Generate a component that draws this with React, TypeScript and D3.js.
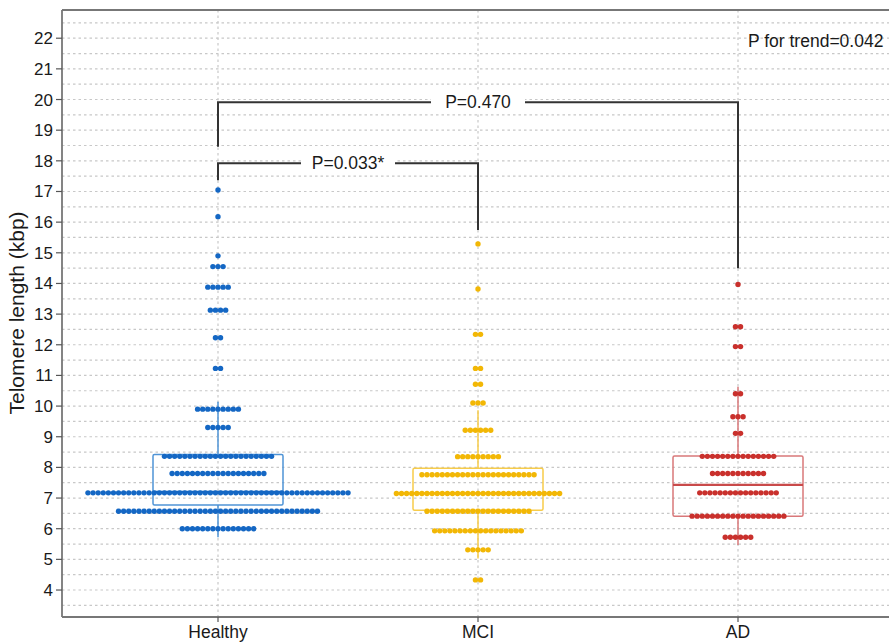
import React from "react";
import * as d3 from "d3";

const groups = ["Healthy", "MCI", "AD"];

const healthyLevels = [17.05, 16.18, 14.9, 14.55, 13.88, 13.13, 12.23, 11.23, 9.9, 9.3, 8.36, 7.8, 7.17, 6.57, 6.0];
const healthyCounts = [1, 1, 1, 3, 5, 4, 2, 2, 9, 5, 22, 19, 52, 40, 15];

const mciLevels = [15.29, 13.82, 12.34, 11.23, 10.71, 10.1, 9.21, 8.35, 7.76, 7.15, 6.57, 5.93, 5.31, 4.33];
const mciCounts = [1, 1, 2, 2, 2, 3, 6, 9, 23, 33, 21, 18, 5, 2];

const adLevels = [13.97, 12.59, 11.94, 10.4, 9.65, 9.11, 8.36, 7.8, 7.17, 6.41, 5.72];
const adCounts = [1, 2, 2, 2, 3, 2, 15, 11, 16, 19, 6];

// box stats: [lowerWhisker, q1, median, q3, upperWhisker]
const healthyBox = [5.72, 6.77, 7.2, 8.42, 10.14];
const mciBox = [5.03, 6.6, 7.15, 7.97, 9.86];
const adBox = [5.47, 6.41, 7.43, 8.37, 10.63];

const dotColors = ["#1467c4", "#f2b705", "#c9302c"];
const boxColors = ["#4f94d6", "#f7cc4a", "#d9787a"];
const medianColors = ["#1467c4", "#f2b705", "#c94a4a"];

const yTicks = d3.range(4, 23, 1);
const yGrid = d3.range(3.5, 23, 0.5);

const comparisons = [
  { from: "Healthy", to: "MCI", label: "P=0.033*", top: 17.92, leftEnd: 17.37, rightEnd: 15.74 },
  { from: "Healthy", to: "AD", label: "P=0.470", top: 19.91, leftEnd: 18.46, rightEnd: 14.5 },
];
const trendLabel = "P for trend=0.042";
const yTitle = "Telomere length (kbp)";

const W = 889;
const H = 643;
const panelLeft = 62;
const panelTop = 10;
const panelBottom = 617;
const panelRight = 894;

export default function App() {
  const y = d3.scaleLinear().domain([3.12, 22.92]).range([panelBottom, panelTop]);
  const x = d3.scalePoint<string>().domain(groups).range([218, 738]);
  const boxHalf = 65;
  const spacing = 5.1;
  const r = 2.7;
  const font = "'Liberation Sans', Arial, sans-serif";

  const levelSets = [healthyLevels, mciLevels, adLevels];
  const countSets = [healthyCounts, mciCounts, adCounts];
  const boxes = [healthyBox, mciBox, adBox];

  const dots: { cx: number; cy: number; g: number }[] = [];
  groups.forEach((g, gi) => {
    levelSets[gi].forEach((lv, li) => {
      const n = countSets[gi][li];
      for (let i = 0; i < n; i++) {
        dots.push({ cx: (x(g) as number) + (i - (n - 1) / 2) * spacing, cy: y(lv), g: gi });
      }
    });
  });

  return (
    <div style={{ position: "fixed", left: 0, top: 0 }}>
      <svg width={W} height={H} style={{ display: "block", background: "#fff" }}>
        <defs>
          <clipPath id="panel">
            <rect x={panelLeft} y={panelTop} width={panelRight - panelLeft} height={panelBottom - panelTop} />
          </clipPath>
        </defs>
        <rect x={0} y={0} width={W} height={H} fill="#fff" />
        <g clipPath="url(#panel)">
          {yGrid.map((v) => (
            <line key={"g" + v} x1={panelLeft} x2={panelRight} y1={y(v)} y2={y(v)} stroke="#c8c8c8" strokeWidth={1.2} strokeDasharray="2.5,3" />
          ))}
          {groups.map((g) => (
            <line key={"v" + g} x1={x(g)} x2={x(g)} y1={panelTop} y2={panelBottom} stroke="#c8c8c8" strokeWidth={1.2} strokeDasharray="2.5,3" />
          ))}
          {groups.map((g, gi) => {
            const [lw, q1, med, q3, uw] = boxes[gi];
            const cx = x(g) as number;
            return (
              <g key={"b" + g}>
                <line x1={cx} x2={cx} y1={y(uw)} y2={y(q3)} stroke={boxColors[gi]} strokeWidth={1.5} />
                <line x1={cx} x2={cx} y1={y(q1)} y2={y(lw)} stroke={boxColors[gi]} strokeWidth={1.5} />
                <rect x={cx - boxHalf} y={y(q3)} width={boxHalf * 2} height={y(q1) - y(q3)} fill="none" stroke={boxColors[gi]} strokeWidth={1.5} rx={1.5} />
                <line x1={cx - boxHalf} x2={cx + boxHalf} y1={y(med)} y2={y(med)} stroke={medianColors[gi]} strokeWidth={2.2} />
              </g>
            );
          })}
          {dots.map((d, i) => (
            <circle key={i} cx={d.cx} cy={d.cy} r={r} fill={dotColors[d.g]} />
          ))}
          {comparisons.map((c) => {
            const x1 = x(c.from) as number;
            const x2 = x(c.to) as number;
            const mid = (x1 + x2) / 2;
            return (
              <g key={c.label}>
                <path
                  d={`M${x1},${y(c.leftEnd)}V${y(c.top)}H${x2}V${y(c.rightEnd)}`}
                  fill="none"
                  stroke="#333"
                  strokeWidth={2}
                />
                <rect x={mid - 47} y={y(c.top) - 10} width={94} height={20} fill="#fff" />
                <text x={mid} y={y(c.top) + 6} textAnchor="middle" fontFamily={font} fontSize={17.5} fill="#1a1a1a">
                  {c.label}
                </text>
              </g>
            );
          })}
          <text x={748} y={47} fontFamily={font} fontSize={17.5} fill="#1a1a1a">{trendLabel}</text>
        </g>
        {/* panel border */}
        <line x1={panelLeft} x2={panelRight} y1={panelTop} y2={panelTop} stroke="#777" strokeWidth={1.8} />
        <line x1={panelLeft} x2={panelRight} y1={panelBottom} y2={panelBottom} stroke="#777" strokeWidth={1.8} />
        <line x1={panelLeft} x2={panelLeft} y1={panelTop} y2={panelBottom} stroke="#777" strokeWidth={1.8} />
        {/* y axis */}
        {yTicks.map((v) => (
          <g key={"t" + v}>
            <line x1={56} x2={panelLeft} y1={y(v)} y2={y(v)} stroke="#555" strokeWidth={1.2} />
            <text x={53} y={y(v) + 6} textAnchor="end" fontFamily={font} fontSize={17} fill="#1a1a1a">{v}</text>
          </g>
        ))}
        {groups.map((g) => (
          <g key={"xt" + g}>
            <line x1={x(g)} x2={x(g)} y1={panelBottom} y2={panelBottom + 5} stroke="#555" strokeWidth={1.2} />
            <text x={x(g)} y={638} textAnchor="middle" fontFamily={font} fontSize={17.5} fill="#1a1a1a">{g}</text>
          </g>
        ))}
        <text transform={`translate(24,313) rotate(-90)`} textAnchor="middle" fontFamily={font} fontSize={21} fill="#1a1a1a">{yTitle}</text>
      </svg>
    </div>
  );
}
